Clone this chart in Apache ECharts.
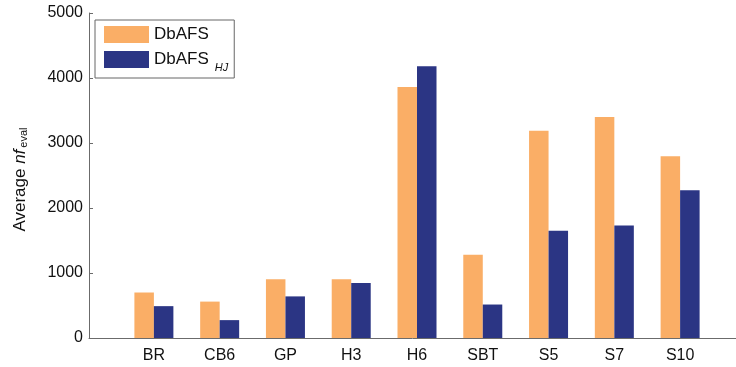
<!DOCTYPE html>
<html>
<head>
<meta charset="utf-8">
<script src="https://cdn.jsdelivr.net/npm/echarts@6/dist/echarts.min.js"></script>
<style>
  html, body { margin: 0; padding: 0; background: #fff; }
  #chart { width: 736px; height: 367px; }
</style>
</head>
<body>
<div id="chart"></div>
<script>
// Problem names on the horizontal axis
const categories = ['BR', 'CB6', 'GP', 'H3', 'H6', 'SBT', 'S5', 'S7', 'S10'];
// Average number of function evaluations per solver
const dbafs   = [700, 560, 905, 905, 3860, 1280, 3190, 3400, 2795];
const dbafsHJ = [490, 275, 640, 845, 4180, 515, 1650, 1730, 2275];
// Vertical scale
const yMin = 0, yMax = 5000, yStep = 1000;

const FONT = 'Liberation Sans, Arial, Helvetica, sans-serif';
const AXIS_COLOR = '#6b6b6b';
const ORANGE = '#FAAE66';
const NAVY = '#2B3584';

const chart = echarts.init(document.getElementById('chart'), null, { renderer: 'canvas' });

chart.setOption({
  animation: false,
  backgroundColor: '#ffffff',
  grid: [
    // frame: carries the y scale and the full-width baseline
    { left: 88, right: 0, top: 13, bottom: 29, containLabel: false },
    // bars: category bands
    { left: 121, right: 23, top: 13, bottom: 29, containLabel: false }
  ],
  legend: {
    orient: 'vertical',
    left: 95,
    top: 20,
    data: ['DbAFS', 'DbAFS_HJ'],
    icon: 'rect',
    itemWidth: 45,
    itemHeight: 17,
    itemGap: 8,
    padding: [6, 6, 5, 9],
    borderColor: '#666',
    borderWidth: 1,
    borderRadius: 0,
    selectedMode: false,
    formatter: function (name) {
      return name === 'DbAFS' ? '{m|DbAFS}' : '{m|DbAFS}{s|HJ}';
    },
    textStyle: {
      fontFamily: FONT,
      color: '#111',
      rich: {
        m: { fontSize: 17, fontFamily: FONT, color: '#111', lineHeight: 17 },
        // subscript drops below the line without enlarging the item
        s: { fontSize: 11, fontFamily: FONT, fontStyle: 'italic', color: '#111',
             lineHeight: 11, verticalAlign: 'bottom', padding: [5, 0, -5, 6] }
      }
    }
  },
  xAxis: [
    {
      gridIndex: 0,
      type: 'value',
      min: 0, max: 1,
      axisLine: { show: true, lineStyle: { color: AXIS_COLOR, width: 1 } },
      axisTick: { show: false },
      axisLabel: { show: false },
      splitLine: { show: false }
    },
    {
      gridIndex: 1,
      type: 'category',
      data: categories,
      axisLine: { show: false },
      axisTick: { show: false },
      axisLabel: { fontFamily: FONT, fontSize: 16, color: '#111', margin: 10 },
      splitLine: { show: false }
    }
  ],
  yAxis: [
    {
      gridIndex: 0,
      type: 'value',
      min: yMin, max: yMax, interval: yStep,
      axisLine: { show: true, lineStyle: { color: AXIS_COLOR, width: 1 } },
      axisTick: { show: true, inside: true, length: 4, lineStyle: { color: AXIS_COLOR } },
      axisLabel: {
        fontFamily: FONT, fontSize: 16, color: '#111', margin: 6,
        formatter: function (v) { return String(v); }
      },
      splitLine: { show: false },
      name: '{m|Average }{i|nf}{s|eval}',
      nameLocation: 'middle',
      nameRotate: 90,
      nameGap: 60,
      nameTextStyle: {
        padding: [0, 8, 0, 0],
        rich: {
          m: { fontFamily: FONT, fontSize: 17, color: '#111', lineHeight: 18 },
          i: { fontFamily: FONT, fontSize: 17, fontStyle: 'italic', color: '#111', lineHeight: 18 },
          s: { fontFamily: FONT, fontSize: 11, color: '#111', lineHeight: 11,
               verticalAlign: 'bottom', padding: [10, 0, 0, 2] }
        }
      }
    },
    {
      gridIndex: 1,
      type: 'value',
      min: yMin, max: yMax, interval: yStep,
      show: false
    }
  ],
  series: [
    {
      name: 'DbAFS',
      type: 'bar',
      xAxisIndex: 1, yAxisIndex: 1,
      data: dbafs,
      barWidth: 19.5,
      barGap: '0%',
      itemStyle: { color: ORANGE }
    },
    {
      name: 'DbAFS_HJ',
      type: 'bar',
      xAxisIndex: 1, yAxisIndex: 1,
      data: dbafsHJ,
      barWidth: 19.5,
      barGap: '0%',
      itemStyle: { color: NAVY }
    }
  ]
});
</script>
</body>
</html>
